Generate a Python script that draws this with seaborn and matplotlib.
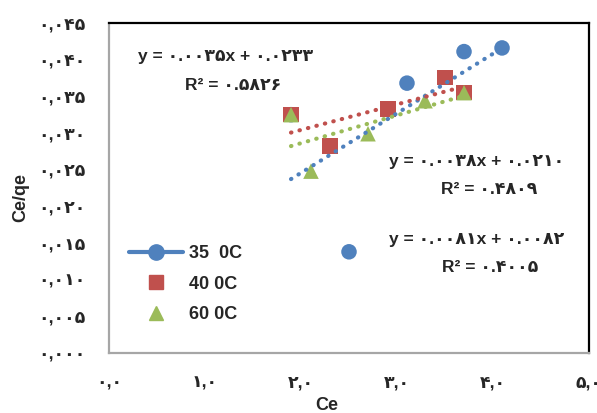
import matplotlib
matplotlib.use("Agg")
import matplotlib.pyplot as plt
import seaborn as sns
import pandas as pd
import numpy as np
from matplotlib.lines import Line2D
from matplotlib.ticker import FuncFormatter, MultipleLocator

# ---- data ----
series_names = ["35  0C", "40 0C", "60 0C"]
ce_35 = [1.896, 2.500, 3.104, 3.698, 4.094]
ceqe_35 = [0.0325, 0.0138, 0.0368, 0.0411, 0.0416]
ce_40 = [1.896, 2.302, 2.906, 3.500, 3.698]
ceqe_40 = [0.0325, 0.0282, 0.0333, 0.0376, 0.0355]
ce_60 = [1.896, 2.104, 2.698, 3.292, 3.698]
ceqe_60 = [0.0325, 0.0248, 0.0299, 0.0344, 0.0355]

eq_texts = [
    ("y = ۰.۰۰۸۱x + ۰.۰۰۸۲", "R² = ۰.۴۰۰۵"),
    ("y = ۰.۰۰۳۵x + ۰.۰۲۳۳", "R² = ۰.۵۸۲۶"),
    ("y = ۰.۰۰۳۸x + ۰.۰۲۱۰", "R² = ۰.۴۸۰۹"),
]

x_label = "Ce"
y_label = "Ce/qe"

colors = {"35  0C": "#4F81BD", "40 0C": "#C0504D", "60 0C": "#9BBB59"}
markers = {"35  0C": "o", "40 0C": "s", "60 0C": "^"}

df = pd.DataFrame({
    "Ce": ce_35 + ce_40 + ce_60,
    "Ce/qe": ceqe_35 + ceqe_40 + ceqe_60,
    "series": [series_names[0]] * len(ce_35) + [series_names[1]] * len(ce_40)
              + [series_names[2]] * len(ce_60),
})

sns.set_style("white")
plt.rcParams["font.family"] = ["Liberation Sans", "DejaVu Sans"]
plt.rcParams["font.weight"] = "bold"

W, H = 597, 413
fig = plt.figure(figsize=(W / 100, H / 100), dpi=100)
ax = fig.add_axes([109 / W, 1 - 353 / H, (589 - 109) / W, (353 - 23) / H])

for name in series_names:
    sub = df[df["series"] == name]
    sns.scatterplot(data=sub, x="Ce", y="Ce/qe", ax=ax, color=colors[name],
                    marker=markers[name], s=125, edgecolor="none", zorder=3,
                    legend=False)
for name in series_names:
    sub = df[df["series"] == name]
    sns.regplot(data=sub, x="Ce", y="Ce/qe", ax=ax, scatter=False, ci=None,
                truncate=True,
                line_kws=dict(color=colors[name], linestyle=(0, (0.1, 2.0)),
                              linewidth=3.0, dash_capstyle="round", zorder=4))

ax.set_xlim(0, 5)
ax.set_ylim(0, 0.045)
ax.xaxis.set_major_locator(MultipleLocator(1))
ax.yaxis.set_major_locator(MultipleLocator(0.005))

fa = str.maketrans("0123456789.", "۰۱۲۳۴۵۶۷۸۹,")
ax.xaxis.set_major_formatter(FuncFormatter(lambda v, p: f"{v:.1f}".translate(fa)))
ax.yaxis.set_major_formatter(FuncFormatter(lambda v, p: f"{v:.3f}".translate(fa)))
ax.tick_params(axis="both", length=0, labelsize=12.5)
ax.tick_params(axis="y", pad=17)
ax.tick_params(axis="x", pad=16)
for lab in ax.get_xticklabels() + ax.get_yticklabels():
    lab.set_fontweight("bold")

ax.set_xlabel("")
ax.set_ylabel("")
fig.text(327 / W, 1 - 405 / H, x_label, ha="center", va="center",
         fontsize=13, fontweight="bold")
fig.text(21 / W, 1 - 197 / H, y_label, ha="center", va="center",
         rotation=90, fontsize=13, fontweight="bold")

for side in ["top", "right"]:
    ax.spines[side].set_color("black")
    ax.spines[side].set_linewidth(1.6)
for side in ["left", "bottom"]:
    ax.spines[side].set_color("#A6A6A6")
    ax.spines[side].set_linewidth(1.6)

# equations
eq_pos = [((477, 240), (490, 268)), ((226, 56), (233, 86)), ((477, 161), (489, 189))]
for (l1, l2), (p1, p2) in zip(eq_texts, eq_pos):
    fig.text(p1[0] / W, 1 - p1[1] / H, l1, ha="center", va="center",
             fontsize=12.5, fontweight="bold")
    fig.text(p2[0] / W, 1 - p2[1] / H, l2, ha="center", va="center",
             fontsize=12.5, fontweight="bold")

handles = [
    Line2D([], [], color=colors[series_names[0]], marker="o", markersize=11,
           linewidth=3),
    Line2D([], [], color=colors[series_names[1]], marker="s", markersize=10,
           linestyle="none"),
    Line2D([], [], color=colors[series_names[2]], marker="^", markersize=10,
           linestyle="none"),
]
leg = ax.legend(handles, series_names, loc="upper left", frameon=False,
                bbox_to_anchor=(122 / W, 1 - 238 / H), bbox_transform=fig.transFigure,
                handlelength=3.0, handletextpad=0.3, labelspacing=0.75,
                prop=dict(size=13, weight="bold"), borderaxespad=0)

fig.savefig("out.png", dpi=100)
